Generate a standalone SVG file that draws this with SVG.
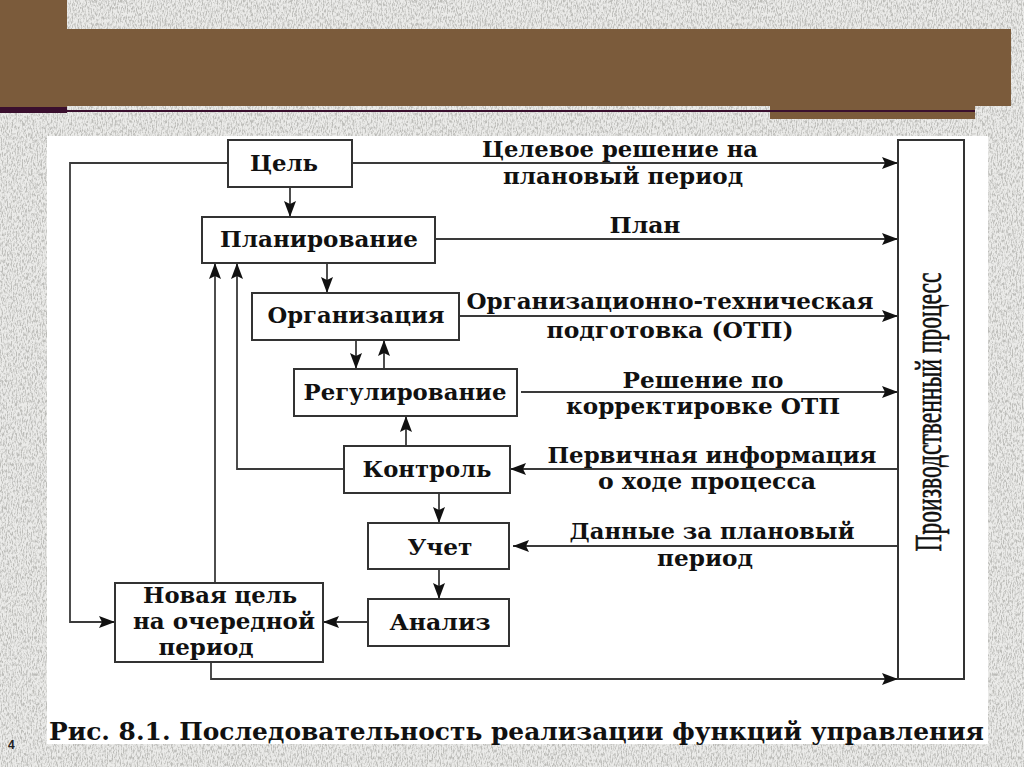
<svg xmlns="http://www.w3.org/2000/svg" width="1024" height="767" viewBox="0 0 1024 767">
<style>
.box{fill:#fff;stroke:#333;stroke-width:2}
.ln{fill:none;stroke:#3a3a3a;stroke-width:1.8}
.t{font-family:"DejaVu Serif","Liberation Serif",serif;font-weight:bold;font-size:23px;fill:#111;text-anchor:middle}
.lbl{font-family:"DejaVu Serif","Liberation Serif",serif;font-weight:bold;font-size:22px;fill:#111;text-anchor:middle}
</style>
<defs>
<marker id="ah" markerUnits="userSpaceOnUse" markerWidth="17" markerHeight="13" refX="16" refY="6" orient="auto">
<path d="M0,0 L16,6 L0,12 L3,6 z" fill="#111"/>
</marker>
<filter id="noise" x="0" y="0" width="100%" height="100%">
<feTurbulence type="fractalNoise" baseFrequency="0.8 0.3" numOctaves="3" seed="4"/>
<feColorMatrix type="matrix" values="0 0 0 0 0.5 0 0 0 0 0.5 0 0 0 0 0.48 3.2 0 0 0 -1.35"/>
</filter>
</defs>
<!-- background -->
<rect x="0" y="0" width="1024" height="767" fill="#ebebe9"/>
<rect x="0" y="0" width="1024" height="767" fill="#fff" filter="url(#noise)"/>
<!-- header -->
<rect x="0" y="0" width="67" height="108" fill="#7b5b3b"/>
<rect x="67" y="29" width="944" height="77" fill="#7b5b3b"/>
<rect x="770" y="106" width="205" height="13" fill="#7b5b3b"/>
<rect x="0" y="107" width="67" height="6" fill="#3a0f2e"/>
<rect x="67" y="110" width="908" height="2" fill="#3a0f2e"/>
<!-- white panel -->
<rect x="47" y="136" width="941" height="608" fill="#fff"/>
<!-- connectors -->
<g id="connectors">
<path class="ln" d="M228,163 H70 V622 H115" marker-end="url(#ah)"/>
<path class="ln" d="M352,163 H898" marker-end="url(#ah)"/>
<path class="ln" d="M290,187 V217" marker-end="url(#ah)"/>
<path class="ln" d="M435,239 H898" marker-end="url(#ah)"/>
<path class="ln" d="M327,263 V293" marker-end="url(#ah)"/>
<path class="ln" d="M459,316 H898" marker-end="url(#ah)"/>
<path class="ln" d="M356,340 V369" marker-end="url(#ah)"/>
<path class="ln" d="M384,369 V340" marker-end="url(#ah)"/>
<path class="ln" d="M521,392 H898" marker-end="url(#ah)"/>
<path class="ln" d="M406,446 V416" marker-end="url(#ah)"/>
<path class="ln" d="M344,469 H237 V263" marker-end="url(#ah)"/>
<path class="ln" d="M215,583 V263" marker-end="url(#ah)"/>
<path class="ln" d="M898,469 H510" marker-end="url(#ah)"/>
<path class="ln" d="M439,493 V523" marker-end="url(#ah)"/>
<path class="ln" d="M898,546 H513" marker-end="url(#ah)"/>
<path class="ln" d="M439,569 V599" marker-end="url(#ah)"/>
<path class="ln" d="M368,622 H323" marker-end="url(#ah)"/>
<path class="ln" d="M211,662 V679 H898" marker-end="url(#ah)"/>
</g>
<!-- connector labels -->
<g id="labels">
<text class="lbl" x="620" y="157" textLength="276" lengthAdjust="spacingAndGlyphs">Целевое решение на</text>
<text class="lbl" x="623" y="184" textLength="240" lengthAdjust="spacingAndGlyphs">плановый период</text>
<text class="lbl" x="645" y="233" textLength="71" lengthAdjust="spacingAndGlyphs">План</text>
<text class="lbl" x="670" y="309" textLength="407" lengthAdjust="spacingAndGlyphs">Организационно-техническая</text>
<text class="lbl" x="670" y="338" textLength="247" lengthAdjust="spacingAndGlyphs">подготовка (ОТП)</text>
<text class="lbl" x="703" y="388" textLength="161" lengthAdjust="spacingAndGlyphs">Решение по</text>
<text class="lbl" x="703" y="414" textLength="274" lengthAdjust="spacingAndGlyphs">корректировке ОТП</text>
<text class="lbl" x="712" y="463" textLength="329" lengthAdjust="spacingAndGlyphs">Первичная информация</text>
<text class="lbl" x="707" y="489" textLength="218" lengthAdjust="spacingAndGlyphs">о ходе процесса</text>
<text class="lbl" x="712" y="539" textLength="285" lengthAdjust="spacingAndGlyphs">Данные за плановый</text>
<text class="lbl" x="705" y="566" textLength="96" lengthAdjust="spacingAndGlyphs">период</text>
</g>
<!-- nodes -->
<g id="goal"><rect class="box" x="228" y="140" width="124" height="47"/><text class="t" x="284" y="171" textLength="68" lengthAdjust="spacingAndGlyphs">Цель</text></g>
<g id="planning"><rect class="box" x="202" y="217" width="233" height="46"/><text class="t" x="319" y="247" textLength="198" lengthAdjust="spacingAndGlyphs">Планирование</text></g>
<g id="organization"><rect class="box" x="252" y="293" width="207" height="47"/><text class="t" x="356" y="323" textLength="177" lengthAdjust="spacingAndGlyphs">Организация</text></g>
<g id="regulation"><rect class="box" x="294" y="369" width="223" height="47"/><text class="t" x="405" y="400" textLength="203" lengthAdjust="spacingAndGlyphs">Регулирование</text></g>
<g id="control"><rect class="box" x="344" y="446" width="166" height="47"/><text class="t" x="427" y="477" textLength="129" lengthAdjust="spacingAndGlyphs">Контроль</text></g>
<g id="accounting"><rect class="box" x="368" y="523" width="141" height="46"/><text class="t" x="440" y="555" textLength="65" lengthAdjust="spacingAndGlyphs">Учет</text></g>
<g id="analysis"><rect class="box" x="368" y="599" width="141" height="47"/><text class="t" x="440" y="630" textLength="101" lengthAdjust="spacingAndGlyphs">Анализ</text></g>
<g id="newgoal"><rect class="box" x="115" y="583" width="208" height="79"/>
<text class="lbl" x="220" y="603" textLength="154" lengthAdjust="spacingAndGlyphs">Новая цель</text>
<text class="lbl" x="224" y="629" textLength="182" lengthAdjust="spacingAndGlyphs">на очередной</text>
<text class="lbl" x="206" y="655" textLength="95" lengthAdjust="spacingAndGlyphs">период</text></g>
<g id="process"><rect class="box" x="898" y="140" width="66" height="539"/>
<text x="0" y="0" transform="translate(941,412) rotate(-90)" font-family="Liberation Serif, serif" font-size="37" fill="#111" stroke="#111" stroke-width="0.6" text-anchor="middle" textLength="279" lengthAdjust="spacingAndGlyphs">Производственный процесс</text></g>
<!-- caption -->
<text x="49" y="740" font-family="DejaVu Serif, Liberation Serif, serif" font-weight="bold" font-size="24" fill="#111" textLength="935" lengthAdjust="spacingAndGlyphs">Рис. 8.1. Последовательность реализации функций управления</text>
<text x="8" y="749" font-family="Liberation Sans, sans-serif" font-weight="bold" font-size="12" fill="#222">4</text>
</svg>
